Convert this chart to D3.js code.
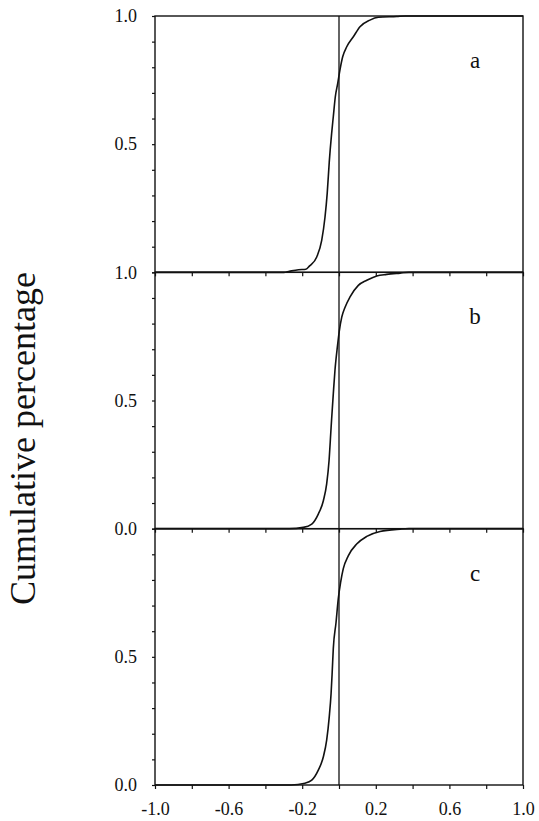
<!DOCTYPE html>
<html>
<head>
<meta charset="utf-8">
<script src="https://cdn.jsdelivr.net/npm/d3@7"></script>
<style>
  body { margin: 0; background: #fff; }
  svg { display: block; }
  text { font-family: "Times New Roman", "Liberation Serif", Times, serif; fill: #111; }
</style>
</head>
<body>
<div id="chart"></div>
<script>
// Cumulative distributions, [x, cumulative fraction]
const curveA = [[-1.0, 0], [-0.30, 0], [-0.27, 0.004], [-0.22, 0.01], [-0.18, 0.012], [-0.16, 0.025],
  [-0.121, 0.06], [-0.094, 0.125], [-0.076, 0.216], [-0.064, 0.309], [-0.053, 0.43], [-0.040, 0.542],
  [-0.031, 0.607], [-0.020, 0.685], [-0.007, 0.737], [0.005, 0.789], [0.020, 0.841], [0.042, 0.880],
  [0.078, 0.919], [0.114, 0.958], [0.168, 0.984], [0.214, 0.995], [0.314, 0.998], [0.36, 1], [1.0, 1]];
const curveB = [[-1.0, 0], [-0.27, 0], [-0.194, 0.005], [-0.148, 0.018], [-0.1125, 0.057], [-0.085, 0.109],
  [-0.067, 0.175], [-0.054, 0.266], [-0.045, 0.370], [-0.040, 0.429], [-0.031, 0.526], [-0.022, 0.617],
  [-0.009, 0.708], [0.002, 0.773], [0.015, 0.825], [0.033, 0.864], [0.060, 0.904], [0.105, 0.949],
  [0.151, 0.969], [0.205, 0.986], [0.259, 0.992], [0.332, 0.997], [0.38, 1], [1.0, 1]];
const curveC = [[-1.0, 0], [-0.26, 0], [-0.185, 0.007], [-0.148, 0.019], [-0.1125, 0.058], [-0.085, 0.110],
  [-0.067, 0.175], [-0.053, 0.266], [-0.043, 0.357], [-0.037, 0.44], [-0.031, 0.532], [-0.016, 0.635],
  [-0.004, 0.726], [0.009, 0.791], [0.023, 0.843], [0.051, 0.895], [0.096, 0.940], [0.151, 0.970],
  [0.223, 0.989], [0.332, 0.998], [0.38, 1], [1.0, 1]];

const panelNames = ["a", "b", "c"];
const xTicks = [-1.0, -0.8, -0.6, -0.4, -0.2, 0, 0.2, 0.4, 0.6, 0.8, 1.0];
const xTickLabels = ["-1.0", "", "-0.6", "", "-0.2", "", "0.2", "", "0.6", "", "1.0"];
const yTicks = [0, 0.1, 0.2, 0.3, 0.4, 0.5, 0.6, 0.7, 0.8, 0.9, 1.0];
// y labels shown per panel (the shared edges are only labelled once)
const yLabelsA = { 1: "1.0", 0.5: "0.5" };
const yLabelsB = { 1: "1.0", 0.5: "0.5", 0: "0.0" };
const yLabelsC = { 0.5: "0.5", 0: "0.0" };
const yTitle = "Cumulative percentage";

const W = 539, H = 821;
const plotLeft = 155, plotRight = 523, plotTop = 16, plotBottom = 785;
const panelH = (plotBottom - plotTop) / 3;
const serif = '"Times New Roman", "Liberation Serif", Times, serif';

const svg = d3.select("#chart").append("svg")
  .attr("width", W)
  .attr("height", H);

const x = d3.scaleLinear().domain([-1, 1]).range([plotLeft, plotRight]);

const curves = [curveA, curveB, curveC];
const yLabels = [yLabelsA, yLabelsB, yLabelsC];

curves.forEach((data, i) => {
  const y0 = plotTop + i * panelH;
  const y = d3.scaleLinear().domain([0, 1]).range([y0 + panelH, y0]);
  const g = svg.append("g");

  // bottom axis with ticks every 0.2
  const xa = g.append("g")
    .attr("transform", "translate(0," + (y0 + panelH) + ")")
    .call(d3.axisBottom(x).tickValues(xTicks).tickSize(4).tickPadding(13)
      .tickFormat((d, k) => i === 2 ? xTickLabels[k] : ""));
  xa.attr("font-family", null);
  xa.select(".domain").remove();
  xa.selectAll("line").attr("stroke", "#111").attr("stroke-width", 1.2);
  xa.selectAll("text").style("font-size", "18px").style("font-family", serif);

  // left axis, minor ticks every 0.1
  const ya = g.append("g")
    .attr("transform", "translate(" + plotLeft + ",0)")
    .call(d3.axisLeft(y).tickValues(yTicks).tickSize(3).tickPadding(15)
      .tickFormat(d => yLabels[i][Math.round(d * 10) / 10] || ""));
  ya.attr("font-family", null);
  ya.select(".domain").remove();
  ya.selectAll("line").attr("stroke", "#111").attr("stroke-width", 1.2);
  ya.selectAll("text").style("font-size", "18px").style("font-family", serif);

  // panel frame
  g.append("rect")
    .attr("x", plotLeft)
    .attr("y", y0)
    .attr("width", plotRight - plotLeft)
    .attr("height", panelH)
    .attr("fill", "none")
    .attr("stroke", "#111")
    .attr("stroke-width", 1.4);

  // the cumulative curve
  g.append("path")
    .datum(data)
    .attr("fill", "none")
    .attr("stroke", "#111")
    .attr("stroke-width", 1.6)
    .attr("d", d3.line().x(d => x(d[0])).y(d => y(d[1])).curve(d3.curveMonotoneX));

  g.append("text")
    .attr("x", 475)
    .attr("y", y0 + 52)
    .attr("text-anchor", "middle")
    .style("font-family", serif)
    .style("font-size", "23px")
    .text(panelNames[i]);
});

// vertical reference line at zero
svg.append("line")
  .attr("x1", x(0)).attr("x2", x(0))
  .attr("y1", plotTop).attr("y2", plotBottom)
  .attr("stroke", "#111")
  .attr("stroke-width", 1.3);

// axis title
svg.append("text")
  .attr("transform", "translate(35," + ((plotTop + plotBottom) / 2 + 38) + ") rotate(-90)")
  .attr("text-anchor", "middle")
  .style("font-family", serif)
  .style("font-size", "36px")
  .text(yTitle);
</script>
</body>
</html>
